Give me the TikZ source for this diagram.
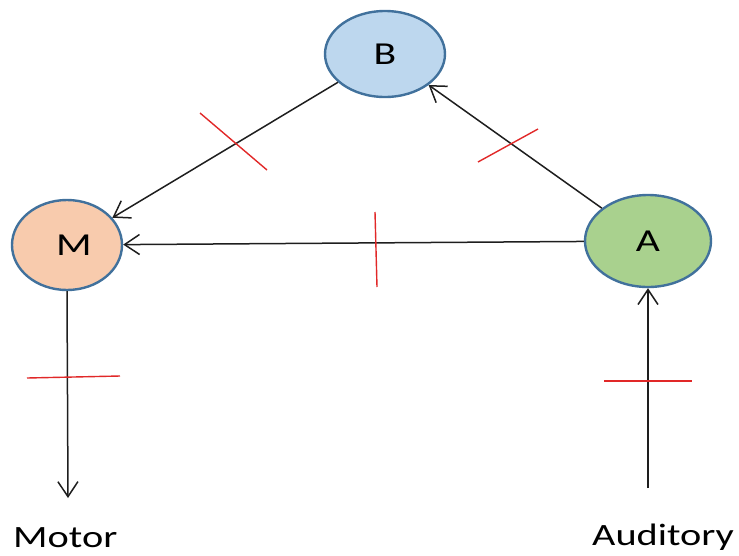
\documentclass[tikz,border=0pt]{standalone}
\usepackage{fontspec}
\setmainfont{Carlito}
\usetikzlibrary{arrows.meta,shapes.geometric}
\definecolor{edgeblue}{RGB}{65,113,156}
\definecolor{fillB}{RGB}{189,215,238}
\definecolor{fillM}{RGB}{248,203,173}
\definecolor{fillA}{RGB}{169,209,142}
\definecolor{tickred}{RGB}{225,40,40}
\definecolor{linegray}{RGB}{30,30,30}
\newcommand{\wtxt}[1]{\scalebox{1.3}[1]{#1}}
\tikzset{
  circ/.style={ellipse, draw=edgeblue, line width=2.4pt, inner sep=0pt,
    font=\fontsize{32}{36}\selectfont},
  conn/.style={draw=linegray, line width=1.5pt,
    -{Straight Barb[length=15pt,width=20pt,line width=1.5pt]}},
  tick/.style={draw=tickred, line width=1.4pt},
  lbl/.style={font=\fontsize{31}{36}\selectfont, inner sep=0pt, text=black}
}
\begin{document}
\begin{tikzpicture}[x=1pt,y=-1pt]
\useasboundingbox (0,0) rectangle (739,555);
\node[circ, fill=fillB, minimum width=120pt, minimum height=86pt] (B) at (385,54) {\raisebox{-5pt}{\wtxt{B}}};
\node[circ, fill=fillM, minimum width=110pt, minimum height=90pt] (M) at (67,245) {\hspace{14pt}\raisebox{-6pt}{\wtxt{M}}};
\node[circ, fill=fillA, minimum width=126pt, minimum height=92pt] (A) at (648,241) {\raisebox{-5pt}{\wtxt{A}}};
\coordinate (motorend) at (68,498);
\coordinate (audstart) at (648,488);
\node[lbl, anchor=base west] (motor) at (13,547) {\wtxt{Motor}};
\node[lbl, anchor=base west] (aud) at (592,545) {\wtxt{Auditory}};
\draw[conn] (B) -- (M);
\draw[conn] (A) -- (M);
\draw[conn] (A) -- (B);
\draw[conn] (M.south) -- (motorend);
\draw[conn] (audstart) -- (A.south);
% red ticks
\draw[tick] (200,113) -- (267,170);
\draw[tick] (478,162) -- (538,129);
\draw[tick] (375,212) -- (377,287);
\draw[tick] (27,378) -- (120,376);
\draw[tick] (604,381) -- (692,381);
\end{tikzpicture}
\end{document}
